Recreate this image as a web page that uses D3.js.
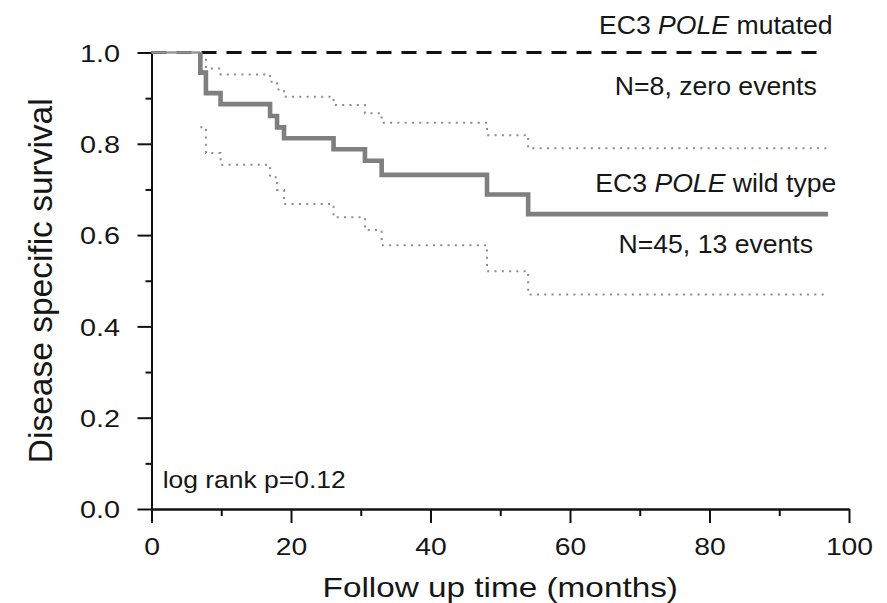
<!DOCTYPE html>
<html>
<head>
<meta charset="utf-8">
<script src="https://cdn.jsdelivr.net/npm/d3@7"></script>
<style>
    body { margin: 0; background: #fff; }
    .chart { width: 887px; height: 603px; }
    text { font-family: "Liberation Sans", Arial, sans-serif; fill: #161616; }
</style>
</head>
<body>
<div class="chart"></div>
<script>
//Values (months, survival fraction)
const wtTimes = [7, 7.8, 9.9, 17, 18, 19, 26.1, 30.6, 33, 48.1, 54];
const wtSurv = [0.956, 0.911, 0.887, 0.861, 0.836, 0.812, 0.788, 0.763, 0.732, 0.689, 0.646];
const wtUpper = [0.99, 0.965, 0.952, 0.936, 0.919, 0.903, 0.885, 0.867, 0.846, 0.819, 0.790];
const wtLower = [0.836, 0.780, 0.754, 0.727, 0.699, 0.668, 0.639, 0.611, 0.578, 0.521, 0.470];
const wtEnd = 97;
const mutEnd = 95.4;
const mutSurv = 1.0;

const xTicks = [0, 20, 40, 60, 80, 100];
const xMinor = [10, 30, 50, 70, 90];
const yTicks = [0, 0.2, 0.4, 0.6, 0.8, 1.0];
const yMinor = [0.1, 0.3, 0.5, 0.7, 0.9];

const labels = [
    {pre: "EC3 ", it: "POLE", post: " mutated", y: 1.04},
    {pre: "N=8, zero events", it: "", post: "", y: 0.906},
    {pre: "EC3 ", it: "POLE", post: " wild type", y: 0.695},
    {pre: "N=45, 13 events", it: "", post: "", y: 0.560}
];

let chart = {};

chart.margin = {top: 52.5, right: 38, bottom: 94, left: 151.5};
chart.width = 887 - chart.margin.left - chart.margin.right;
chart.height = 603 - chart.margin.top - chart.margin.bottom;

chart.svg = d3.select(".chart").append("svg")
    .attr("width", 887)
    .attr("height", 603);

chart.plot = chart.svg.append("g")
    .attr("transform", `translate(${chart.margin.left},${chart.margin.top})`);

chart.x = d3.scaleLinear().domain([0, 100]).range([0, chart.width]);
chart.y = d3.scaleLinear().domain([0, 1]).range([chart.height, 0]);

let fmt = d3.format(".1f");

//axes: major ticks with labels, minor ticks without
let yAxis = chart.plot.append("g").attr("class", "y axis")
    .call(d3.axisLeft(chart.y).tickValues(yTicks).tickFormat(fmt).tickSize(14).tickSizeOuter(0));
chart.plot.append("g").attr("class", "y minor")
    .call(d3.axisLeft(chart.y).tickValues(yMinor).tickFormat("").tickSize(6).tickSizeOuter(0));

let xAxis = chart.plot.append("g").attr("class", "x axis")
    .attr("transform", `translate(0,${chart.height})`)
    .call(d3.axisBottom(chart.x).tickValues(xTicks).tickSize(14).tickSizeOuter(0));
chart.plot.append("g").attr("class", "x minor")
    .attr("transform", `translate(0,${chart.height})`)
    .call(d3.axisBottom(chart.x).tickValues(xMinor).tickFormat("").tickSize(7).tickSizeOuter(0));

chart.plot.selectAll(".axis path, .minor path, .axis line, .minor line")
    .attr("stroke", "#111").attr("stroke-width", 2);

yAxis.selectAll("text")
    .attr("x", null).attr("dy", "0.36em")
    .attr("transform", "translate(-31.5,0) scale(1.2,1)")
    .style("font-size", "24px").style("font-family", "Liberation Sans, Arial, sans-serif");

xAxis.selectAll("text")
    .attr("y", 29).attr("dy", "0.71em")
    .attr("transform", "scale(1.18,1)")
    .style("font-size", "24px").style("font-family", "Liberation Sans, Arial, sans-serif");

//axis titles
chart.svg.append("text")
    .attr("transform", `translate(52,${chart.margin.top + chart.height / 2}) rotate(-90)`)
    .attr("text-anchor", "middle")
    .style("font-size", "33.5px")
    .text("Disease specific survival");

chart.svg.append("text")
    .attr("transform", `translate(${chart.margin.left + chart.width / 2},597) scale(1.19,1)`)
    .attr("text-anchor", "middle")
    .style("font-size", "28px")
    .text("Follow up time (months)");

//step curves
let line = d3.line()
    .x(d => chart.x(d[0]))
    .y(d => chart.y(d[1]))
    .curve(d3.curveStepAfter);

function steps(times, vals, start, end) {
    let pts = [[times[0], start]];
    times.forEach((t, i) => pts.push([t, vals[i]]));
    pts.push([end, vals[vals.length - 1]]);
    return pts;
}

//mutated group: flat at 1.0, dashed
chart.plot.append("path")
    .attr("d", line([[0, mutSurv], [mutEnd, mutSurv]]))
    .attr("fill", "none")
    .attr("stroke", "#111")
    .attr("stroke-width", 3)
    .attr("stroke-dasharray", "15,10");

//confidence limits, dotted
[[wtUpper, wtUpper[0]], [wtLower, wtLower[0]]].forEach(([vals, s0]) => {
    chart.plot.append("path")
        .attr("d", line(steps(wtTimes, vals, s0, wtEnd)))
        .attr("fill", "none")
        .attr("stroke", "#8c8c8c")
        .attr("stroke-width", 2)
        .attr("stroke-dasharray", "2,5.3");
});

//wild type: thin part before first event, then thick grey step curve
chart.plot.append("path")
    .attr("d", line([[0, 1], [wtTimes[0], 1]]))
    .attr("fill", "none")
    .attr("stroke", "#999")
    .attr("stroke-width", 2.5);

chart.plot.append("path")
    .attr("d", line(steps(wtTimes, wtSurv, 1, wtEnd)))
    .attr("fill", "none")
    .attr("stroke", "#7f7f7f")
    .attr("stroke-width", 4.6);

//curve labels
labels.forEach(l => {
    let t = chart.plot.append("text")
        .attr("transform", `translate(${chart.x(80.9)},${chart.y(l.y)}) scale(1.065,1)`)
        .attr("text-anchor", "middle")
        .style("font-size", "25px");
    t.append("tspan").text(l.pre);
    if (l.it) {
        t.append("tspan").style("font-style", "italic").text(l.it);
        t.append("tspan").text(l.post);
    }
});

chart.svg.append("text")
    .attr("transform", "translate(162.7,488.3) scale(1.15,1)")
    .style("font-size", "23px")
    .text("log rank p=0.12");
</script>
</body>
</html>
